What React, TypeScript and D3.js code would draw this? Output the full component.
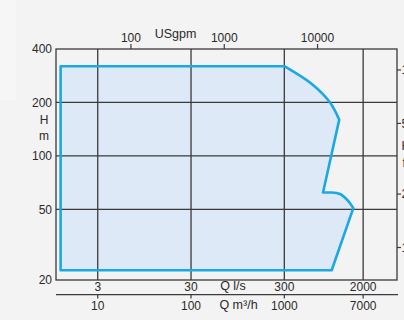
import React from "react";
import * as d3 from "d3";

// Flow in m³/h, head in m — envelope outline, in segments
const edgeQ = [4, 4, 1000];
const edgeH = [22.7, 320, 320];
const shoulderQ = [1000, 2030, 3090, 3880];
const shoulderH = [320, 251, 200, 160];
const notchQ = [3880, 2600, 3220];
const notchH = [160, 62.2, 62.2];
const lobeQ = [3220, 3955, 4876, 5490];
const lobeH = [62.2, 61.0, 55.5, 50.8];
const baseQ = [5490, 3220, 4];
const baseH = [50.8, 22.7, 22.7];

// Grid / axis ticks
const gridQ = [10, 100, 1000, 7000]; // m³/h
const gridQLabels = ["10", "100", "1000", "7000"];
const lsLabels = ["3", "30", "300", "2000"]; // l/s labels aligned with grid
const gridH = [400, 200, 100, 50, 20];
const gpmTicks = [100, 1000, 10000];
const ftTicks = [1000, 500, 200, 100];

const W = 404;
const H = 320;
const left = 56, right = 397, top = 49, bottom = 280;

export default function App() {
  const x = d3.scaleLog().domain([3.57, 16140]).range([left, right]);
  const y = d3.scaleLog().domain([20, 400]).range([bottom, top]);
  const seg = (qs: number[], hs: number[], curve: any, first: boolean) => {
    const p = d3.line().curve(curve)(qs.map((q, i) => [x(q), y(hs[i])] as [number, number])) || "";
    return first ? p : "L" + p.slice(1);
  };
  const d =
    seg(edgeQ, edgeH, d3.curveLinear, true) +
    seg(shoulderQ, shoulderH, d3.curveCatmullRom, false) +
    seg(notchQ, notchH, d3.curveLinear, false) +
    seg(lobeQ, lobeH, d3.curveCatmullRom, false) +
    seg(baseQ, baseH, d3.curveLinear, false) +
    "Z";
  const txt = "#2a2a2a";
  const gridCol = "#3a3a3a";
  const font = "'Liberation Sans', Arial, sans-serif";
  return (
    <svg width={W} height={H} style={{ position: "fixed", left: 0, top: 0, background: "#f3f3f3" }} fontFamily={font}>
      <rect x={0} y={0} width={W} height={H} fill="#f3f3f3" />
      <rect x={0} y={0} width={16} height={100} fill="#f6f6f6" />
      {/* envelope fill */}
      <path d={d} fill="#dde9f6" stroke="none" />
      {/* grid */}
      {gridQ.map((q) => (
        <line key={"gx" + q} x1={x(q)} x2={x(q)} y1={top} y2={bottom} stroke={gridCol} strokeWidth={1.3} />
      ))}
      {gridH.slice(1, 4).map((h) => (
        <line key={"gy" + h} x1={left} x2={right} y1={y(h)} y2={y(h)} stroke={gridCol} strokeWidth={1.3} />
      ))}
      <rect x={left} y={top} width={right - left} height={bottom - top} fill="none" stroke={gridCol} strokeWidth={1.3} />
      {/* envelope outline */}
      <path d={d} fill="none" stroke="#1ba9e3" strokeWidth={2.6} strokeLinejoin="round" />
      {/* left axis labels */}
      {gridH.map((h) => (
        <text key={"hl" + h} x={52} y={y(h) + 4.3} textAnchor="end" fontSize={12} fill={txt}>{h}</text>
      ))}
      <text x={44} y={124} textAnchor="middle" fontSize={12} fill={txt}>H</text>
      <text x={44} y={140} textAnchor="middle" fontSize={12} fill={txt}>m</text>
      {/* top USgpm axis */}
      {gpmTicks.map((g) => {
        const xx = x(g * 0.2271);
        return (
          <g key={"gpm" + g}>
            <line x1={xx} x2={xx} y1={top} y2={top - 5} stroke={gridCol} strokeWidth={1.2} />
            <text x={xx} y={42} textAnchor="middle" fontSize={12} fill={txt}>{g}</text>
          </g>
        );
      })}
      <text x={175.5} y={38} textAnchor="middle" fontSize={12.5} fill={txt}>USgpm</text>
      {/* right ft axis (runs off the page edge, as in the reference) */}
      {ftTicks.map((f) => {
        const yy = y(f / 3.281);
        return (
          <g key={"ft" + f}>
            <line x1={right} x2={right + 4} y1={yy} y2={yy} stroke={gridCol} strokeWidth={1.2} />
            <text x={401.5} y={yy + 4.3} fontSize={12} fill={txt}>{f}</text>
          </g>
        );
      })}
      <text x={401.5} y={150} fontSize={12} fill={txt}>H</text>
      <text x={402.5} y={167} fontSize={12} fill={txt}>ft</text>
      {/* bottom l/s labels */}
      {gridQ.map((q, i) => (
        <text key={"ls" + q} x={x(q)} y={291} textAnchor="middle" fontSize={12} fill={txt}>{lsLabels[i]}</text>
      ))}
      <text x={233} y={290} textAnchor="middle" fontSize={12.5} fill={txt}>Q l/s</text>
      {/* m³/h axis */}
      <line x1={left} x2={right + 1} y1={294.7} y2={294.7} stroke={gridCol} strokeWidth={1.3} />
      {gridQ.map((q, i) => (
        <g key={"mh" + q}>
          <line x1={x(q)} x2={x(q)} y1={294.7} y2={298.5} stroke={gridCol} strokeWidth={1.2} />
          <text x={x(q)} y={310} textAnchor="middle" fontSize={12} fill={txt}>{gridQLabels[i]}</text>
        </g>
      ))}
      <text x={238.5} y={309} textAnchor="middle" fontSize={12.5} fill={txt}>Q m³/h</text>
    </svg>
  );
}
